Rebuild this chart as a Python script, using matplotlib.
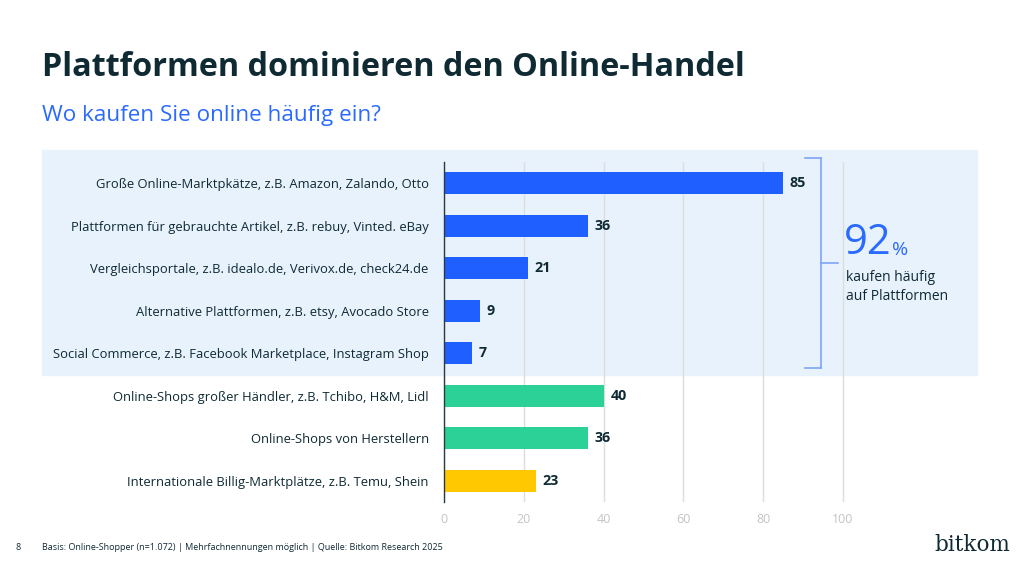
import matplotlib.pyplot as plt
from matplotlib.patches import Rectangle
from matplotlib.lines import Line2D

plt.rcParams['font.family'] = ['Open Sans', 'DejaVu Sans']

# data
categories = [
    'Große Online-Marktpkätze, z.B. Amazon, Zalando, Otto',
    'Plattformen für gebrauchte Artikel, z.B. rebuy, Vinted. eBay',
    'Vergleichsportale, z.B. idealo.de, Verivox.de, check24.de',
    'Alternative Plattformen, z.B. etsy, Avocado Store',
    'Social Commerce, z.B. Facebook Marketplace, Instagram Shop',
    'Online-Shops großer Händler, z.B. Tchibo, H&M, Lidl',
    'Online-Shops von Herstellern',
    'Internationale Billig-Marktplätze, z.B. Temu, Shein',
]
values = [85, 36, 21, 9, 7, 40, 36, 23]
groups = ['platform'] * 5 + ['shop', 'shop', 'cheap']
xticks = [0, 20, 40, 60, 80, 100]

colors = {'platform': '#1f5fff', 'shop': '#2bd196', 'cheap': '#ffc800'}
dark = '#0f2a33'
blue_txt = '#2a6aff'

W, H = 1024, 575
fig = plt.figure(figsize=(W / 100, H / 100), dpi=100)


def fx(px):
    return px / W


def fy(py):
    return 1 - py / H


# highlight band behind the platform rows
band = Rectangle((fx(42), fy(375)), fx(977) - fx(42), fy(150) - fy(375),
                 transform=fig.transFigure, color='#e8f2fd', zorder=0)
fig.add_artist(band)

x0, x100 = 444, 843
xmax = 101
ax = fig.add_axes([fx(x0), fy(502), fx(x0 + (x100 - x0) * xmax / 100) - fx(x0),
                   fy(162) - fy(502)])
ax.set_zorder(2)
ax.patch.set_alpha(0)
y = list(range(len(values)))
ax.barh(y, values, height=0.52, color=[colors[g] for g in groups], zorder=3)
ax.set_xlim(0, xmax)
ax.set_ylim(len(values) - 0.5, -0.5)
ax.set_xticks(xticks)
ax.set_yticks(y)
ax.set_yticklabels(categories, fontsize=9.4, color=dark)
ax.tick_params(axis='y', length=0, pad=11)
ax.tick_params(axis='x', length=0, pad=8, labelsize=9, labelcolor='#c4c4c4')
ax.grid(axis='x', color='#dcdcdc', linewidth=1, zorder=1)
for s in ['top', 'right', 'bottom']:
    ax.spines[s].set_visible(False)
ax.spines['left'].set_color('#2a3a40')
ax.spines['left'].set_linewidth(1)
ax.spines['left'].set_zorder(4)

for yi, v in zip(y, values):
    ax.text(v + 1.7, yi, str(v), va='center', ha='left', fontsize=10.3,
            fontweight='bold', color=dark)

# bracket for the platform rows
bc = '#7ea6f5'
for xs, ys in [([805, 821], [158, 158]), ([821, 821], [158, 368]),
               ([805, 821], [368, 368]), ([821, 838], [263, 263])]:
    fig.add_artist(Line2D([fx(v) for v in xs], [fy(v) for v in ys],
                          color=bc, linewidth=1.2, transform=fig.transFigure, zorder=3))

fig.text(fx(844), fy(243), '92', fontsize=30, color=blue_txt, va='center', ha='left')
fig.text(fx(892), fy(250), '%', fontsize=14, color=blue_txt, va='center', ha='left')
fig.text(fx(846), fy(278), 'kaufen häufig', fontsize=10, color=dark, va='center')
fig.text(fx(846), fy(297), 'auf Plattformen', fontsize=10, color=dark, va='center')

# titles
fig.text(fx(42), fy(68), 'Plattformen dominieren den Online-Handel', fontsize=23.3,
         fontweight='bold', color=dark, va='center', ha='left')
fig.text(fx(42), fy(115), 'Wo kaufen Sie online häufig ein?', fontsize=16.2,
         color=blue_txt, va='center', ha='left')

# footer
fig.text(fx(15), fy(548), '8', fontsize=6.5, color=dark, va='center')
fig.text(fx(42), fy(548),
         'Basis: Online-Shopper (n=1.072) | Mehrfachnennungen möglich | Quelle: Bitkom Research 2025',
         fontsize=6.45, color=dark, va='center')
fig.text(fx(1010), fy(545), 'bitkom', fontsize=15.5, family='DejaVu Serif', color=dark,
         va='center', ha='right')

fig.savefig('out.png', dpi=100)
